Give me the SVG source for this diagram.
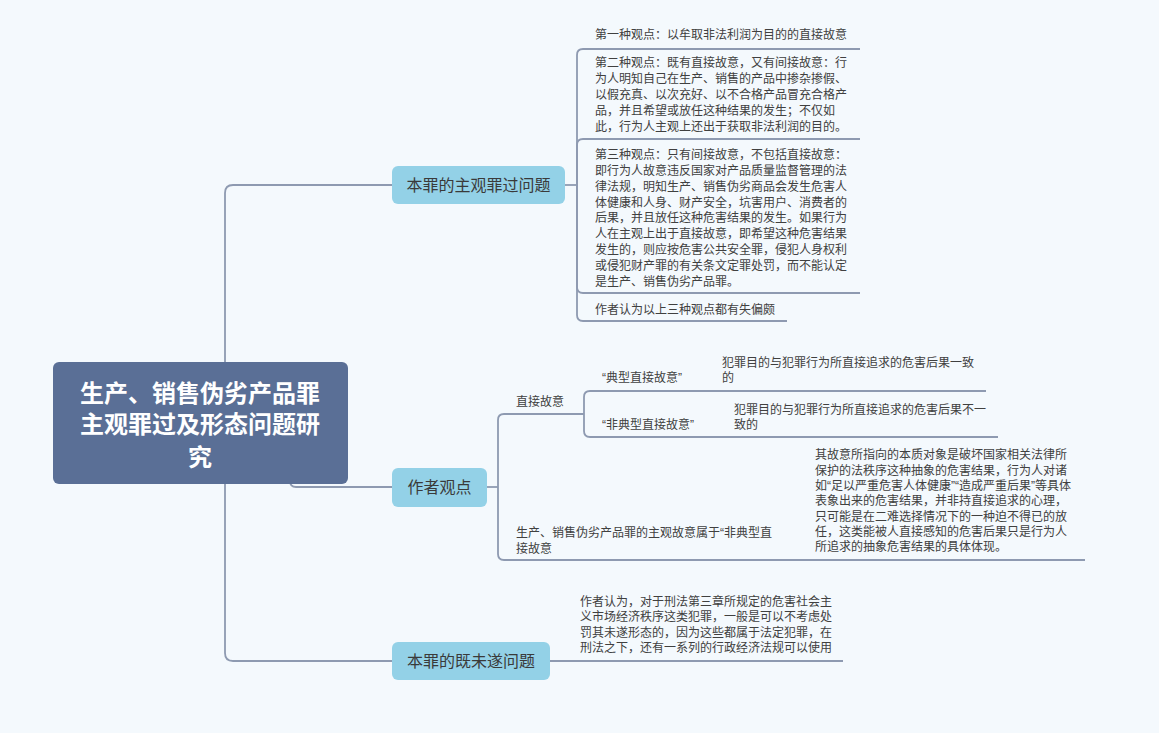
<svg xmlns="http://www.w3.org/2000/svg" width="1159" height="733" viewBox="0 0 1159 733">
<style>
.bg{fill:#f4f9fd}
.conn path{fill:none;stroke:#8e9ab1;stroke-width:1.8}
.root rect{fill:#5a6f96}
.root text{font-family:"Liberation Sans","Noto Sans CJK SC",sans-serif;font-size:24px;font-weight:bold;fill:#ffffff;text-anchor:middle}
.main rect{fill:#93d1e7}
.main text{font-family:"Liberation Sans","Noto Sans CJK SC",sans-serif;font-size:16px;fill:#3a3a3a;text-anchor:middle}
.t{font-family:"Liberation Sans","Noto Sans CJK SC",sans-serif;font-size:12px;fill:#404040}
</style>
<rect class="bg" x="0" y="0" width="1159" height="733"/>
<g id="connectors" class="conn">
<path d="M225 362 V193 Q225 185 233 185 H392"/>
<path d="M225 484 V653 Q225 661 233 661 H392"/>
<path d="M290 478 V481 Q290 487 296 487 H392"/>
<path d="M565 185 H577"/>
<path d="M577 185 V55 Q577 49 583 49 H860"/>
<path d="M577 185 V145 Q577 139 583 139 H860"/>
<path d="M577 185 V287 Q577 293 583 293 H860"/>
<path d="M577 185 V315 Q577 321 583 321 H787"/>
<path d="M487 487 H498"/>
<path d="M498 487 V420 Q498 414 504 414 H584"/>
<path d="M498 487 V554 Q498 560 504 560 H1085"/>
<path d="M584 414 V397 Q584 391 590 391 H986"/>
<path d="M584 414 V431 Q584 437 590 437 H998"/>
<path d="M550 661 H843"/>
</g>
<g id="root" class="root">
<rect x="53" y="362" width="295" height="122" rx="6"/>
<text x="200" y="402">生产、销售伪劣产品罪</text>
<text x="200" y="433">主观罪过及形态问题研</text>
<text x="200" y="466">究</text>
</g>
<g id="n-subjective" class="main">
<rect x="392" y="166" width="173" height="38" rx="6"/>
<text x="478.5" y="191">本罪的主观罪过问题</text>
</g>
<g id="n-author" class="main">
<rect x="392" y="468" width="95" height="39" rx="6"/>
<text x="439.5" y="493">作者观点</text>
</g>
<g id="n-attempt" class="main">
<rect x="392" y="642" width="158" height="38" rx="6"/>
<text x="471" y="667">本罪的既未遂问题</text>
</g>
<g id="n-view1">
<text class="t" x="595" y="39">第一种观点：以牟取非法利润为目的的直接故意</text>
</g>
<g id="n-view2">
<text class="t" x="595" y="67">第二种观点：既有直接故意，又有间接故意：行</text>
<text class="t" x="595" y="83">为人明知自己在生产、销售的产品中掺杂掺假、</text>
<text class="t" x="595" y="99">以假充真、以次充好、以不合格产品冒充合格产</text>
<text class="t" x="595" y="115">品，并且希望或放任这种结果的发生；不仅如</text>
<text class="t" x="595" y="131">此，行为人主观上还出于获取非法利润的目的。</text>
</g>
<g id="n-view3">
<text class="t" x="595" y="159">第三种观点：只有间接故意，不包括直接故意：</text>
<text class="t" x="595" y="175">即行为人故意违反国家对产品质量监督管理的法</text>
<text class="t" x="595" y="191">律法规，明知生产、销售伪劣商品会发生危害人</text>
<text class="t" x="595" y="207">体健康和人身、财产安全，坑害用户、消费者的</text>
<text class="t" x="595" y="222">后果，并且放任这种危害结果的发生。如果行为</text>
<text class="t" x="595" y="238">人在主观上出于直接故意，即希望这种危害结果</text>
<text class="t" x="595" y="254">发生的，则应按危害公共安全罪，侵犯人身权利</text>
<text class="t" x="595" y="270">或侵犯财产罪的有关条文定罪处罚，而不能认定</text>
<text class="t" x="595" y="286">是生产、销售伪劣产品罪。</text>
</g>
<g id="n-view4">
<text class="t" x="595" y="314">作者认为以上三种观点都有失偏颇</text>
</g>
<g id="n-direct">
<text class="t" x="516" y="406">直接故意</text>
</g>
<g id="n-typical">
<text class="t" x="602" y="382">“典型直接故意”</text>
</g>
<g id="n-typical-desc">
<text class="t" x="722" y="367">犯罪目的与犯罪行为所直接追求的危害后果一致</text>
<text class="t" x="722" y="382">的</text>
</g>
<g id="n-atypical">
<text class="t" x="602" y="429">“非典型直接故意”</text>
</g>
<g id="n-atypical-desc">
<text class="t" x="734" y="414">犯罪目的与犯罪行为所直接追求的危害后果不一</text>
<text class="t" x="734" y="429">致的</text>
</g>
<g id="n-belongs">
<text class="t" x="516" y="537">生产、销售伪劣产品罪的主观故意属于“非典型直</text>
<text class="t" x="516" y="553">接故意</text>
</g>
<g id="n-belongs-desc">
<text class="t" x="815" y="459">其故意所指向的本质对象是破坏国家相关法律所</text>
<text class="t" x="815" y="475">保护的法秩序这种抽象的危害结果，行为人对诸</text>
<text class="t" x="815" y="490">如“足以严重危害人体健康”“造成严重后果”等具体</text>
<text class="t" x="815" y="505">表象出来的危害结果，并非持直接追求的心理，</text>
<text class="t" x="815" y="521">只可能是在二难选择情况下的一种迫不得已的放</text>
<text class="t" x="815" y="536">任，这类能被人直接感知的危害后果只是行为人</text>
<text class="t" x="815" y="551">所追求的抽象危害结果的具体体现。</text>
</g>
<g id="n-attempt-desc">
<text class="t" x="580" y="606">作者认为，对于刑法第三章所规定的危害社会主</text>
<text class="t" x="580" y="621">义市场经济秩序这类犯罪，一般是可以不考虑处</text>
<text class="t" x="580" y="637">罚其未遂形态的，因为这些都属于法定犯罪，在</text>
<text class="t" x="580" y="652">刑法之下，还有一系列的行政经济法规可以使用</text>
</g>
</svg>
